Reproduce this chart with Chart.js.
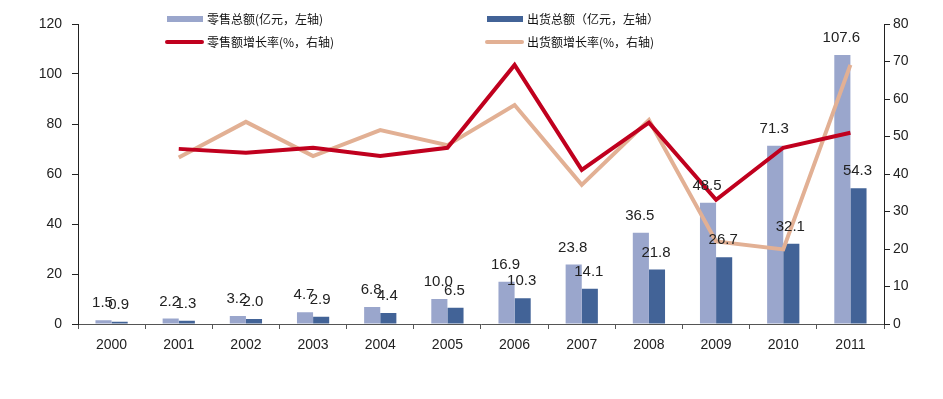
<!DOCTYPE html>
<html>
<head>
<meta charset="utf-8">
<script src="https://cdn.jsdelivr.net/npm/chart.js"></script>
<style>
  body { margin: 0; background: #fff; }
  #wrap { position: relative; width: 943px; height: 399px; }
  .lg { position: absolute; font: 12px "Noto Sans CJK SC", sans-serif; color: #111; white-space: nowrap; line-height: 14px; }
  .sw { position: absolute; }
</style>
</head>
<body>
<div id="wrap">
  <canvas id="c" width="943" height="399"></canvas>
  <div class="sw" style="left:167px;top:16px;width:36px;height:6px;background:#9aa6cc"></div>
  <div class="lg" style="left:207px;top:12px">零售总额(亿元，左轴)</div>
  <div class="sw" style="left:487px;top:16px;width:36px;height:6px;background:#426397"></div>
  <div class="lg" style="left:527px;top:12px">出货总额（亿元，左轴）</div>
  <div class="sw" style="left:165px;top:40px;width:39px;height:4px;background:#c0001e;border-radius:2px"></div>
  <div class="lg" style="left:207px;top:35px">零售额增长率(%，右轴)</div>
  <div class="sw" style="left:485px;top:40px;width:39px;height:4px;background:#e2b094;border-radius:2px"></div>
  <div class="lg" style="left:527px;top:35px">出货额增长率(%，右轴)</div>
</div>
<script>
// data
const years = ['2000','2001','2002','2003','2004','2005','2006','2007','2008','2009','2010','2011'];
const retailTotal = [1.5, 2.2, 3.2, 4.7, 6.8, 10.0, 16.9, 23.8, 36.5, 48.5, 71.3, 107.6];
const shipTotal   = [0.9, 1.3, 2.0, 2.9, 4.4, 6.5, 10.3, 14.1, 21.8, 26.7, 32.1, 54.3];
const retailGrowth = [null, 46.7, 45.7, 47.0, 44.8, 47.0, 69.1, 41.1, 53.7, 33.1, 47.0, 51.0];
const shipGrowth   = [null, 44.4, 53.9, 44.8, 51.7, 47.7, 58.4, 37.1, 54.4, 22.0, 19.9, 69.1];

// value labels above the bars
const barLabels = {
  id: 'barLabels',
  afterDatasetsDraw(chart) {
    const ctx = chart.ctx;
    ctx.save();
    ctx.font = '15px "Liberation Sans", Arial, sans-serif';
    ctx.fillStyle = '#222';
    ctx.textAlign = 'center';
    ctx.textBaseline = 'middle';
    chart.data.datasets.forEach((ds, di) => {
      if (ds.type !== 'bar') return;
      chart.getDatasetMeta(di).data.forEach((bar, i) => {
        ctx.fillText(ds.data[i].toFixed(1), bar.x - 1, bar.y - 17);
      });
    });
    ctx.restore();
  }
};

const tickFont = { family: '"Liberation Sans", Arial, sans-serif', size: 14 };

new Chart(document.getElementById('c'), {
  data: {
    labels: years,
    datasets: [
      { type: 'line', label: '零售额增长率', data: retailGrowth, yAxisID: 'y1',
        borderColor: '#c0001e', borderWidth: 4, pointRadius: 0, tension: 0, order: 0 },
      { type: 'line', label: '出货额增长率', data: shipGrowth, yAxisID: 'y1',
        borderColor: '#e2b094', borderWidth: 4, pointRadius: 0, tension: 0, order: 1 },
      { type: 'bar', label: '零售总额', data: retailTotal, yAxisID: 'y',
        backgroundColor: '#9aa6cc', categoryPercentage: 0.48, barPercentage: 1, order: 2 },
      { type: 'bar', label: '出货总额', data: shipTotal, yAxisID: 'y',
        backgroundColor: '#426397', categoryPercentage: 0.48, barPercentage: 1, order: 3 }
    ]
  },
  options: {
    responsive: false,
    animation: false,
    layout: { padding: { top: 24, bottom: 0, left: 0, right: 0 } },
    plugins: { legend: { display: false }, tooltip: { enabled: false } },
    scales: {
      x: {
        offset: true,
        grid: { offset: true, drawOnChartArea: false, drawTicks: true, tickLength: 5, color: '#555' },
        border: { color: '#555' },
        ticks: { font: tickFont, color: '#222', padding: 8 },
        afterFit: s => { s.height = 75; }
      },
      y: {
        position: 'left', min: 0, max: 120,
        ticks: { stepSize: 20, font: tickFont, color: '#222', padding: 10 },
        grid: { drawOnChartArea: false, tickLength: 6, color: '#222' },
        border: { color: '#222' },
        afterFit: s => { s.width = 78; }
      },
      y1: {
        position: 'right', min: 0, max: 80,
        ticks: { stepSize: 10, font: tickFont, color: '#222', padding: 3 },
        grid: { drawOnChartArea: false, tickLength: 6, color: '#222' },
        border: { color: '#222' },
        afterFit: s => { s.width = 59; }
      }
    }
  },
  plugins: [barLabels]
});
</script>
</body>
</html>
